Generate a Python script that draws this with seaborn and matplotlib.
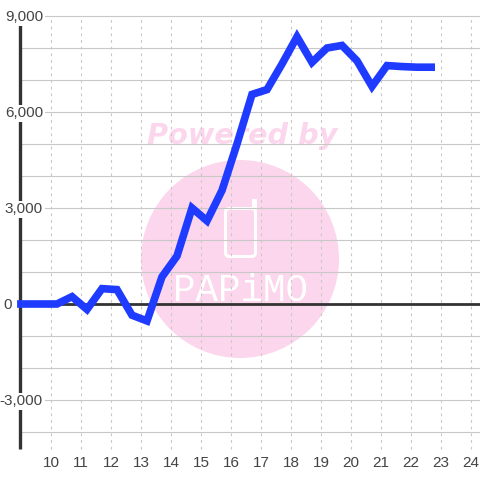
#!/usr/bin/env python3
# -*- coding: utf-8 -*-

import matplotlib
matplotlib.use('Agg')
import matplotlib.pyplot as plt
import pandas as pd
import seaborn as sns
from matplotlib.patches import Circle, FancyBboxPatch, Rectangle
from matplotlib.transforms import Affine2D

# Values
hours = [8.87, 9.2, 9.7, 10.2, 10.7, 11.2, 11.7, 12.2, 12.7, 13.2, 13.7, 14.2,
         14.7, 15.2, 15.7, 16.2, 16.7, 17.2, 17.7, 18.2, 18.7, 19.2, 19.7,
         20.2, 20.7, 21.2, 21.7, 22.2, 22.8]
balance = [0, 0, 0, 0, 230, -170, 480, 450, -350, -530, 850, 1500,
           3000, 2600, 3550, 5000, 6550, 6700, 7500, 8350, 7550, 8000, 8080,
           7600, 6800, 7450, 7420, 7400, 7400]
x_ticks = list(range(10, 25))
y_grid = list(range(-4000, 10000, 1000))
y_ticks = [9000, 6000, 3000, -3000]
y_labels = ['9,000', '6,000', '3,000', '-3,000']

sns.set_theme(style='white')
plt.rcParams['font.family'] = ['Liberation Sans', 'DejaVu Sans']

fig = plt.figure(figsize=(4.8, 4.8), dpi=100)
ax = fig.add_axes([0, 0, 1, 1])
ax.set_xlim(8.3, 24.3)
ax.set_ylim(-5500, 9500)

# Watermark placed in image pixels
px = Affine2D().scale(1 / 480, -1 / 480).translate(0, 1) + fig.transFigure
pink = '#fcd6ec'
ax.add_patch(Circle((240, 259), 99, transform=px, color=pink, lw=0, zorder=1))
ax.text(242, 136, 'Powered by', transform=px, color=pink, fontsize=20.7,
        family='DejaVu Sans', weight='bold', style='italic',
        ha='center', va='center', zorder=1)
ax.add_patch(FancyBboxPatch((225.5, 208.5), 30, 48, boxstyle='round,pad=0,rounding_size=4',
                            transform=px, fc='none', ec='white', lw=2.2, zorder=1))
ax.add_patch(Rectangle((252, 199), 5, 11, transform=px, fc='white', lw=0, zorder=1))
ax.text(240, 291, 'PAPiMO', transform=px, color='white', fontsize=27,
        family='Liberation Mono', ha='center', va='center', zorder=1)

# Grid
ax.hlines(y_grid, 8.98, 24.3, color='#c8c8c8', lw=0.8, zorder=2)
ax.vlines(x_ticks, -4530, 9000, color='#c8c8c8', lw=0.8, linestyles=(0, (2.5, 3.5)), zorder=2)

# Axis lines
ax.plot([8.98, 8.98], [-4530, 8750], color='#333333', lw=2.4, solid_capstyle='butt', zorder=3)
ax.plot([8.98, 24.3], [0, 0], color='#333333', lw=2, solid_capstyle='butt', zorder=3)

df = pd.DataFrame({'hour': hours, 'balance': balance})
sns.lineplot(data=df, x='hour', y='balance', ax=ax, color='#1f3bff', linewidth=5.5, sort=False,
             errorbar=None, estimator=None, solid_joinstyle='miter',
             solid_capstyle='butt', zorder=4)
ax.axis('off')

# Tick labels
for value, label in zip(y_ticks, y_labels):
    ax.text(9.73, value - 40, label, color='#444444', fontsize=11, ha='right', va='center',
            bbox=dict(fc='white', ec='none', pad=1.2), zorder=5)
ax.text(8.7, -40, '0', color='#444444', fontsize=11, ha='right', va='center', zorder=5)
for hour in x_ticks:
    ax.text(hour, -4980, str(hour), color='#444444', fontsize=11, ha='center', va='center',
            zorder=5)

fig.savefig('out.png', dpi=100)
